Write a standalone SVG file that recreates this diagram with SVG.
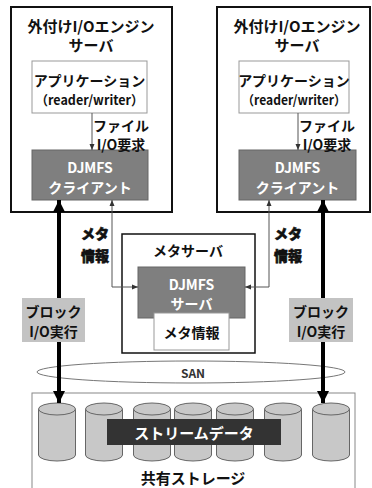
<svg xmlns="http://www.w3.org/2000/svg" width="372" height="488" viewBox="0 0 372 488">
<style>
text{font-family:"Noto Sans CJK JP","Noto Sans",sans-serif;text-anchor:middle;dominant-baseline:central}
.b{font-weight:700;fill:#111}
.w{font-weight:700;fill:#fff}
.outer{fill:#fff;stroke:#111;stroke-width:2}
.app{fill:#fff;stroke:#999;stroke-width:1}
.dj{fill:#7f7f7f;stroke:#666;stroke-width:1}
.blk{fill:#c3c3c3}
.cyl{fill:#c8c8c8;stroke:#666;stroke-width:1}
.thin{fill:none;stroke:#555;stroke-width:1}
.thick{fill:none;stroke:#000;stroke-width:4}
.meta{font-weight:900;fill:#111;stroke:#111;stroke-width:0.6}
</style>
<defs>
<marker id="sa" markerUnits="userSpaceOnUse" markerWidth="6" markerHeight="6" viewBox="0 0 6 6" refX="6" refY="3" orient="auto-start-reverse"><path d="M0,0.5 L6,3 L0,5.5 Z" fill="#333"/></marker>
<marker id="ba" markerUnits="userSpaceOnUse" markerWidth="12" markerHeight="12" viewBox="0 0 12 12" refX="12" refY="6" orient="auto-start-reverse"><path d="M0,0 L12,6 L0,12 Z" fill="#000"/></marker>
</defs>

<g id="server-left">
<rect class="outer" x="11" y="7" width="161" height="205"/>
<text class="b" x="91" y="25" font-size="15">外付けI/Oエンジン</text>
<text class="b" x="91" y="44" font-size="15">サーバ</text>
</g>
<g id="app-left">
<rect class="app" x="32" y="61" width="115" height="52"/>
<text class="b" x="89.5" y="80" font-size="14">アプリケーション</text>
<text class="b" x="89.5" y="99" font-size="13" textLength="108" lengthAdjust="spacingAndGlyphs">（reader/writer）</text>
</g>
<g id="client-left">
<rect class="dj" x="32" y="150" width="116" height="50"/>
<text class="w" x="90" y="167" font-size="14">DJMFS</text>
<text class="w" x="90" y="187" font-size="14">クライアント</text>
</g>

<g id="server-right">
<rect class="outer" x="217" y="7" width="153" height="205"/>
<text class="b" x="297" y="25" font-size="15">外付けI/Oエンジン</text>
<text class="b" x="297" y="44" font-size="15">サーバ</text>
</g>
<g id="app-right">
<rect class="app" x="239" y="61" width="110" height="52"/>
<text class="b" x="294" y="80" font-size="14">アプリケーション</text>
<text class="b" x="294" y="99" font-size="13" textLength="104" lengthAdjust="spacingAndGlyphs">（reader/writer）</text>
</g>
<g id="client-right">
<rect class="dj" x="239" y="150" width="117" height="50"/>
<text class="w" x="297.5" y="167" font-size="14">DJMFS</text>
<text class="w" x="297.5" y="187" font-size="14">クライアント</text>
</g>

<g id="meta-server">
<rect x="122" y="234" width="133" height="119" fill="#fff" stroke="#111" stroke-width="1.5"/>
<text class="b" x="188" y="250" font-size="14">メタサーバ</text>
</g>
<g id="djmfs-server">
<rect class="dj" x="138" y="267" width="107" height="51"/>
<text class="w" x="191.5" y="284" font-size="14">DJMFS</text>
<text class="w" x="191.5" y="303" font-size="14">サーバ</text>
</g>
<g id="meta-info">
<rect class="app" x="154" y="313" width="75" height="37"/>
<text class="b" x="191.5" y="332" font-size="14">メタ情報</text>
</g>

<g id="storage">
<rect x="32" y="393" width="323" height="100" fill="#fff" stroke="#888" stroke-width="1"/>
<g id="disks">
<g><path class="cyl" d="M38.5,409 v46 a18.5,6 0 0 0 37,0 v-46"/><ellipse class="cyl" cx="57" cy="409" rx="18.5" ry="6"/></g>
<g><path class="cyl" d="M85.5,409 v46 a18.5,6 0 0 0 37,0 v-46"/><ellipse class="cyl" cx="104" cy="409" rx="18.5" ry="6"/></g>
<g><path class="cyl" d="M133.5,409 v46 a18.5,6 0 0 0 37,0 v-46"/><ellipse class="cyl" cx="152" cy="409" rx="18.5" ry="6"/></g>
<g><path class="cyl" d="M174.5,409 v46 a18.5,6 0 0 0 37,0 v-46"/><ellipse class="cyl" cx="193" cy="409" rx="18.5" ry="6"/></g>
<g><path class="cyl" d="M216.5,409 v46 a18.5,6 0 0 0 37,0 v-46"/><ellipse class="cyl" cx="235" cy="409" rx="18.5" ry="6"/></g>
<g><path class="cyl" d="M264.5,409 v46 a18.5,6 0 0 0 37,0 v-46"/><ellipse class="cyl" cx="283" cy="409" rx="18.5" ry="6"/></g>
<g><path class="cyl" d="M312.5,409 v46 a18.5,6 0 0 0 37,0 v-46"/><ellipse class="cyl" cx="331" cy="409" rx="18.5" ry="6"/></g>
</g>
<text class="b" x="193" y="477" font-size="15">共有ストレージ</text>
</g>
<g id="stream-data">
<rect x="107" y="419" width="174" height="26" fill="#333"/>
<text x="194" y="432" font-size="15" fill="#fff" font-weight="700">ストリームデータ</text>
</g>

<g id="san">
<ellipse cx="191" cy="372" rx="154" ry="11" fill="none" stroke="#777" stroke-width="1"/>
<text x="193" y="372" font-size="12" fill="#333" font-weight="700">SAN</text>
</g>

<g id="connectors">
<line class="thin" x1="92" y1="113" x2="92" y2="150" marker-end="url(#sa)"/>
<line class="thin" x1="298" y1="113" x2="298" y2="150" marker-end="url(#sa)"/>
<polyline class="thin" points="112,200 112,287 138,287" marker-start="url(#sa)" marker-end="url(#sa)"/>
<polyline class="thin" points="269,200 269,287 245,287" marker-start="url(#sa)" marker-end="url(#sa)"/>
<line class="thick" x1="59" y1="200" x2="59" y2="403" marker-start="url(#ba)" marker-end="url(#ba)"/>
<line class="thick" x1="323" y1="200" x2="323" y2="403" marker-start="url(#ba)" marker-end="url(#ba)"/>
</g>

<g id="label-file">
<text class="b" x="121" y="125" font-size="14">ファイル</text>
<text class="b" x="121" y="144" font-size="14">I/O要求</text>
</g>
<g id="label-file-r">
<text class="b" x="327" y="125" font-size="14">ファイル</text>
<text class="b" x="327" y="144" font-size="14">I/O要求</text>
</g>
<g id="label-meta-l">
<text class="meta" x="95" y="233" font-size="14">メタ</text>
<text class="meta" x="95" y="255" font-size="14">情報</text>
</g>
<g id="label-meta-r">
<text class="meta" x="288" y="233" font-size="14">メタ</text>
<text class="meta" x="288" y="255" font-size="14">情報</text>
</g>
<g id="block-io-left">
<rect class="blk" x="22" y="298" width="63" height="44"/>
<text class="b" x="53.5" y="311" font-size="14">ブロック</text>
<text class="b" x="53.5" y="331" font-size="14">I/O実行</text>
</g>
<g id="block-io-right">
<rect class="blk" x="289" y="298" width="64" height="44"/>
<text class="b" x="321" y="311" font-size="14">ブロック</text>
<text class="b" x="321" y="331" font-size="14">I/O実行</text>
</g>
</svg>
